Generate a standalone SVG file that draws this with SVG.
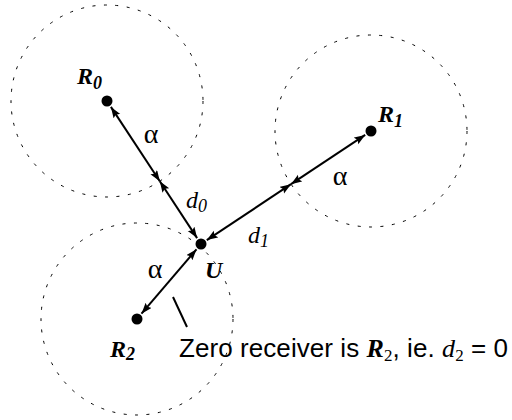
<svg xmlns="http://www.w3.org/2000/svg" width="512" height="420" viewBox="0 0 512 420">
<style>
.ring{fill:none;stroke:#000;stroke-width:1;stroke-dasharray:3 8.5}
.dot{fill:#000}
.conn line{stroke:#000;stroke-width:2;marker-start:url(#ah);marker-end:url(#ah)}
.lab{font-family:"Liberation Serif",serif;font-size:24px;fill:#000}
.al{font-size:28px}
.bi{font-weight:bold;font-style:italic}
.it{font-style:italic}
.sub{font-size:18px}
.note{font-family:"Liberation Sans",Arial,sans-serif;font-size:26px;fill:#000}
</style>
<defs>
<marker id="ah" markerUnits="userSpaceOnUse" markerWidth="12" markerHeight="9" refX="11" refY="4" orient="auto-start-reverse" viewBox="0 0 12 9">
<path d="M0,0 L11,4 L0,8 L2,4 z" fill="#000"/>
</marker>
</defs>
<g id="node-R0">
<circle class="ring" cx="107" cy="101" r="96"/>
<circle class="dot" cx="107" cy="101" r="5.5"/>
<text class="lab bi" x="77" y="84">R<tspan class="sub" dy="5">0</tspan></text>
</g>
<g id="node-R1">
<circle class="ring" cx="371" cy="131" r="96"/>
<circle class="dot" cx="371" cy="131" r="5.5"/>
<text class="lab bi" x="378" y="122">R<tspan class="sub" dy="5">1</tspan></text>
</g>
<g id="node-R2">
<circle class="ring" cx="137" cy="319" r="96"/>
<circle class="dot" cx="137" cy="319" r="5.5"/>
<text class="lab bi" x="110" y="357">R<tspan class="sub" dy="3">2</tspan></text>
</g>
<g id="node-U">
<circle class="dot" cx="201" cy="244" r="5.5"/>
<text class="lab bi" x="205" y="278" font-size="26">U</text>
</g>
<g id="connectors" class="conn">
<line x1="110.9" y1="106.9" x2="159.8" y2="181.3"/>
<line x1="159.8" y1="181.3" x2="197.1" y2="238.1"/>
<line x1="365.2" y1="134.9" x2="291" y2="184.2"/>
<line x1="291" y1="184.2" x2="206.8" y2="240.1"/>
<line x1="141.5" y1="313.7" x2="196.5" y2="249.3"/>
</g>
<g id="labels">
<text class="lab al" x="151" y="143" text-anchor="middle">α</text>
<text class="lab al" x="340" y="185" text-anchor="middle">α</text>
<text class="lab al" x="155" y="278" text-anchor="middle">α</text>
<text class="lab it" x="186" y="208">d<tspan class="sub" dy="4">0</tspan></text>
<text class="lab it" x="248" y="243">d<tspan class="sub" dy="4">1</tspan></text>
</g>
<g id="note">
<line x1="173" y1="297" x2="187" y2="327" stroke="#000" stroke-width="2"/>
<text class="note" x="179" y="357" textLength="329" lengthAdjust="spacing">Zero receiver is <tspan font-family="Liberation Serif, serif" font-weight="bold" font-style="italic">R</tspan><tspan font-family="Liberation Serif, serif" font-size="17" dy="4">2</tspan><tspan dy="-4">, ie. </tspan><tspan font-family="Liberation Serif, serif" font-style="italic">d</tspan><tspan font-family="Liberation Serif, serif" font-size="17" dy="4">2</tspan><tspan dy="-4"> = 0</tspan></text>
</g>
</svg>
